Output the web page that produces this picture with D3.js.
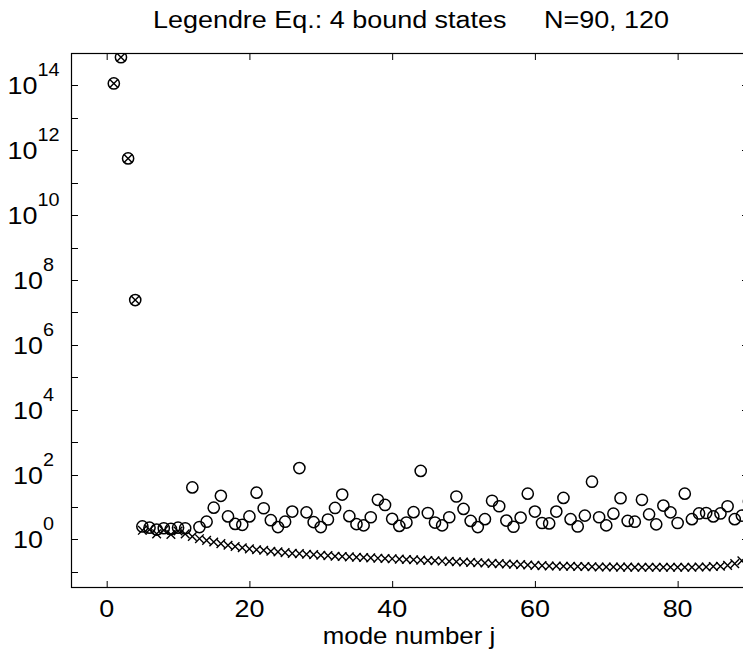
<!DOCTYPE html>
<html>
<head>
<meta charset="utf-8">
<script src="https://cdn.jsdelivr.net/npm/d3@7/dist/d3.min.js"></script>
<style>
  html, body { margin: 0; padding: 0; background: #fff; }
  svg { display: block; font-family: "Liberation Sans", Arial, Helvetica, sans-serif; }
</style>
</head>
<body>
<svg id="chart" width="743" height="650"></svg>
<script>
// ---- data ----
const modes = d3.range(1, 91); // j = 1..90
const titleText = "Legendre Eq.: 4 bound states     N=90, 120";
const xLabelText = "mode number j";
const xTickValues = [0, 20, 40, 60, 80];
const yTickExponents = [0, 2, 4, 6, 8, 10, 12, 14];
const yMinorExponents = [-1, 1, 3, 5, 7, 9, 11, 13];

// circles (N=90)
const circleValues = [
  1.15e14, 7.4e14, 5.6e11, 2.4e7, 2.5, 2.3, 2.0, 2.2, 2.1, 2.3,
  2.2, 40, 2.4, 3.5, 9.5, 22, 5.1, 3.0, 2.8, 5.1,
  27.5, 9.1, 3.9, 2.4, 3.5, 7.2, 158, 6.8, 3.4, 2.4,
  4.1, 9.3, 24, 5.2, 2.95, 2.7, 4.8, 16.6, 11.5, 4.3,
  2.6, 3.3, 6.9, 129, 6.5, 3.3, 2.7, 4.8, 21, 8.7,
  3.7, 2.4, 4.2, 15.5, 10.5, 3.8, 2.45, 4.7, 25.7, 7.2,
  3.2, 3.1, 7.2, 19, 4.2, 2.5, 5.4, 60, 4.8, 2.7,
  6.2, 18.6, 3.7, 3.5, 16.6, 5.9, 2.9, 11, 6.8, 3.2,
  25.7, 4.2, 6.3, 6.5, 5.1, 6.3, 10.5, 4.2, 5.4, 14.8
];
// crosses (N=120)
const crossValues = [
  1.15e14, 7.4e14, 5.6e11, 2.4e7, 1.9, 2.0, 1.48, 1.9, 1.41, 1.82,
  1.48, 1.23, 1.05, 0.93, 0.83, 0.74, 0.66, 0.60, 0.55, 0.51,
  0.48, 0.46, 0.43, 0.41, 0.39, 0.37, 0.363, 0.347, 0.339, 0.324,
  0.316, 0.302, 0.295, 0.288, 0.282, 0.275, 0.269, 0.263, 0.257, 0.251,
  0.245, 0.240, 0.234, 0.229, 0.224, 0.219, 0.214, 0.209, 0.204, 0.200,
  0.195, 0.191, 0.186, 0.182, 0.178, 0.174, 0.170, 0.166, 0.162, 0.158,
  0.155, 0.151, 0.151, 0.148, 0.148, 0.145, 0.145, 0.143, 0.141, 0.141,
  0.140, 0.139, 0.139, 0.138, 0.138, 0.138, 0.138, 0.138, 0.138, 0.138,
  0.138, 0.138, 0.140, 0.141, 0.145, 0.148, 0.158, 0.178, 0.219, 0.316
];

// ---- layout ----
const L = 71, R = 749, T = 53, B = 588;
const svg = d3.select("#chart");

const x = d3.scaleLinear().domain([-5, 90]).range([L, R]);
const y = d3.scaleLog().domain([Math.pow(10, -1.5), 1e15]).range([B, T]);

const tickLen = 7;
const ink = "#000";
const sx = 1.1; // horizontal stretch of the reference lettering

function stretchedText(g, px, py) {
  return g.append("text").attr("transform", `translate(${px},${py}) scale(${sx},1)`);
}

// clip
svg.append("clipPath").attr("id", "clip")
  .append("rect").attr("x", L).attr("y", T).attr("width", R - L).attr("height", B - T);

// frame
svg.append("rect").attr("x", L + 0.5).attr("y", T + 0.5)
  .attr("width", R - L - 1).attr("height", B - T - 1)
  .attr("fill", "none").attr("stroke", ink).attr("stroke-width", 1.2);

// x ticks (bottom and top, inward)
const xAxisB = d3.axisBottom(x).tickValues(xTickValues).tickSizeInner(-tickLen).tickSizeOuter(0).tickFormat("");
const gxb = svg.append("g").attr("transform", `translate(0,${B})`).call(xAxisB);
gxb.select(".domain").remove();
gxb.selectAll("line").attr("stroke", ink);
const xAxisT = d3.axisTop(x).tickValues(xTickValues).tickSizeInner(-tickLen).tickSizeOuter(0).tickFormat("");
const gxt = svg.append("g").attr("transform", `translate(0,${T})`).call(xAxisT);
gxt.select(".domain").remove();
gxt.selectAll("line").attr("stroke", ink);

// x tick labels
const gxl = svg.append("g");
xTickValues.forEach(v => {
  stretchedText(gxl, x(v), 617).attr("text-anchor", "middle")
    .attr("font-size", 24.5).attr("fill", ink).text(String(v));
});

// y ticks left (every decade)
const allExp = yTickExponents.concat(yMinorExponents);
svg.append("g").selectAll("line").data(allExp).join("line")
  .attr("x1", L).attr("x2", L + tickLen)
  .attr("y1", d => Math.round(y(Math.pow(10, d))) + 0.5)
  .attr("y2", d => Math.round(y(Math.pow(10, d))) + 0.5)
  .attr("stroke", ink);
// y ticks right (labelled decades)
svg.append("g").selectAll("line").data(yTickExponents).join("line")
  .attr("x1", R).attr("x2", R - tickLen)
  .attr("y1", d => Math.round(y(Math.pow(10, d))) + 0.5)
  .attr("y2", d => Math.round(y(Math.pow(10, d))) + 0.5)
  .attr("stroke", ink);

// y labels 10^n
const gyl = svg.append("g");
yTickExponents.forEach(e => {
  const t = stretchedText(gyl, 33.5, y(Math.pow(10, e)) + 9)
    .attr("text-anchor", "middle").attr("font-size", 24.5).attr("fill", ink);
  t.append("tspan").text("10");
  t.append("tspan").attr("dy", -18).attr("font-size", 18).text(String(e));
});

// title & x label
stretchedText(svg, 411, 28).attr("text-anchor", "middle")
  .attr("font-size", 24.5).attr("fill", ink)
  .style("white-space", "pre").text(titleText);
stretchedText(svg, 409, 644).attr("text-anchor", "middle")
  .attr("font-size", 23.5).attr("fill", ink).text(xLabelText);

// ---- marks ----
const plot = svg.append("g").attr("clip-path", "url(#clip)");
const crossData = modes.map((j, i) => ({ j, v: crossValues[i] }));
const circleData = modes.map((j, i) => ({ j, v: circleValues[i] }));
const cs = 4.3;
plot.append("g").selectAll("path").data(crossData).join("path")
  .attr("d", d => {
    const cx = x(d.j), cy = y(d.v);
    return `M${cx - cs},${cy - cs}L${cx + cs},${cy + cs}M${cx - cs},${cy + cs}L${cx + cs},${cy - cs}`;
  })
  .attr("fill", "none").attr("stroke", ink).attr("stroke-width", 1.4);
plot.append("g").selectAll("circle").data(circleData).join("circle")
  .attr("cx", d => x(d.j)).attr("cy", d => y(d.v)).attr("r", 5.6)
  .attr("fill", "none").attr("stroke", ink).attr("stroke-width", 1.5);
</script>
</body>
</html>
